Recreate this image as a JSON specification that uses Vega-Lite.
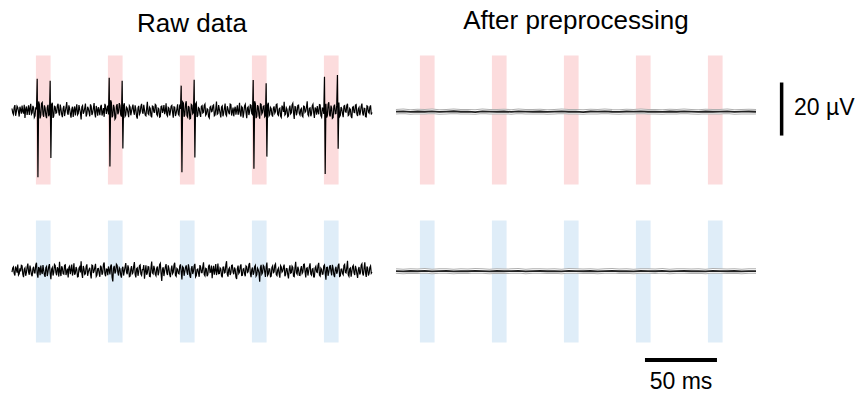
{
  "$schema": "https://vega.github.io/schema/vega-lite/v6.json",
  "padding": {"left": 9, "top": 8, "right": 0, "bottom": 0},
  "background": "white",
  "config": {
    "view": {"stroke": null},
    "font": "Liberation Sans",
    "title": {"font": "Liberation Sans", "fontSize": 26, "fontWeight": "normal", "color": "#000000", "anchor": "middle", "frame": "group"}
  },
  "datasets": {
    "redBands": [{"s":16.6,"e":26.8,"lo":-28.46,"hi":21.15},{"s":66.6,"e":76.8,"lo":-28.46,"hi":21.15},{"s":116.6,"e":126.8,"lo":-28.46,"hi":21.15},{"s":166.6,"e":176.8,"lo":-28.46,"hi":21.15},{"s":216.6,"e":226.8,"lo":-28.46,"hi":21.15}],
    "blueBands": [{"s":16.6,"e":26.8,"lo":-27.69,"hi":19.23},{"s":66.6,"e":76.8,"lo":-27.69,"hi":19.23},{"s":116.6,"e":126.8,"lo":-27.69,"hi":19.23},{"s":166.6,"e":176.8,"lo":-27.69,"hi":19.23},{"s":216.6,"e":226.8,"lo":-27.69,"hi":19.23}],
    "rawS": [
{"t":0,"v":0.8},{"t":0.5,"v":-0.9},{"t":1,"v":-1.5},{"t":1.5,"v":1.1},{"t":2,"v":2.1},{"t":2.5,"v":-2.0},{"t":3,"v":-0.6},{"t":3.5,"v":1.7},{"t":4,"v":1.2},{"t":4.5,"v":-0.4},
{"t":5,"v":-2.3},{"t":5.5,"v":1.5},{"t":6,"v":0.4},{"t":6.5,"v":-1.2},{"t":7,"v":1.9},{"t":7.5,"v":-0.3},{"t":8,"v":-1.1},{"t":8.5,"v":2.2},{"t":9,"v":-2.8},{"t":9.5,"v":0.6},
{"t":10,"v":1.6},{"t":10.5,"v":-1.7},{"t":11,"v":0.3},{"t":11.5,"v":2.0},{"t":12,"v":-1.7},{"t":12.5,"v":0.9},{"t":13,"v":2.6},{"t":13.5,"v":-1.4},{"t":14,"v":-0.9},{"t":14.5,"v":1.8},
{"t":15,"v":1.1},{"t":15.5,"v":-2.6},{"t":16,"v":-2.0},{"t":16.5,"v":1.3},{"t":17,"v":0.5},{"t":17.5,"v":12.2},{"t":18,"v":-25.6},{"t":18.5,"v":3.5},{"t":19,"v":2.4},{"t":19.5,"v":-3.0},
{"t":20,"v":-1.8},{"t":20.5,"v":2.7},{"t":21,"v":3.1},{"t":21.5,"v":-1.5},{"t":22,"v":-2.4},{"t":22.5,"v":2.0},{"t":23,"v":1.0},{"t":23.5,"v":-1.8},{"t":24,"v":-2.9},{"t":24.5,"v":1.2},
{"t":25,"v":2.2},{"t":25.5,"v":-2.2},{"t":26,"v":-1.3},{"t":26.5,"v":11.5},{"t":27,"v":-18.2},{"t":27.5,"v":2.4},{"t":28,"v":3.0},{"t":28.5,"v":-2.8},{"t":29,"v":-2.1},{"t":29.5,"v":1.6},
{"t":30,"v":1.4},{"t":30.5,"v":-1.0},{"t":31,"v":-0.8},{"t":31.5,"v":1.9},{"t":32,"v":2.6},{"t":32.5,"v":-0.7},{"t":33,"v":-1.9},{"t":33.5,"v":2.3},{"t":34,"v":0.7},{"t":34.5,"v":-1.5},
{"t":35,"v":-2.5},{"t":35.5,"v":0.8},{"t":36,"v":1.8},{"t":36.5,"v":-2.1},{"t":37,"v":-0.4},{"t":37.5,"v":1.2},{"t":38,"v":3.3},{"t":38.5,"v":-0.9},{"t":39,"v":-1.6},{"t":39.5,"v":2.0},
{"t":40,"v":0.9},{"t":40.5,"v":-1.3},{"t":41,"v":-2.7},{"t":41.5,"v":0.5},{"t":42,"v":1.5},{"t":42.5,"v":-2.4},{"t":43,"v":0.2},{"t":43.5,"v":1.6},{"t":44,"v":-1.9},{"t":44.5,"v":0.7},
{"t":45,"v":2.4},{"t":45.5,"v":-1.6},{"t":46,"v":-1.1},{"t":46.5,"v":2.1},{"t":47,"v":0.6},{"t":47.5,"v":-0.8},{"t":48,"v":-3.4},{"t":48.5,"v":1.4},{"t":49,"v":1.9},{"t":49.5,"v":-1.2},
{"t":50,"v":-0.5},{"t":50.5,"v":1.0},{"t":51,"v":2.7},{"t":51.5,"v":-2.3},{"t":52,"v":-1.4},{"t":52.5,"v":1.5},{"t":53,"v":0.8},{"t":53.5,"v":-0.6},{"t":54,"v":-2.2},{"t":54.5,"v":2.4},
{"t":55,"v":1.6},{"t":55.5,"v":-1.7},{"t":56,"v":-0.9},{"t":56.5,"v":0.9},{"t":57,"v":2.9},{"t":57.5,"v":-1.1},{"t":58,"v":-2.6},{"t":58.5,"v":1.8},{"t":59,"v":0.5},{"t":59.5,"v":-2.0},
{"t":60,"v":1.3},{"t":60.5,"v":0.2},{"t":61,"v":-1.8},{"t":61.5,"v":1.4},{"t":62,"v":2.2},{"t":62.5,"v":-1.9},{"t":63,"v":-0.7},{"t":63.5,"v":1.0},{"t":64,"v":-2.4},{"t":64.5,"v":2.6},
{"t":65,"v":1.7},{"t":65.5,"v":-1.3},{"t":66,"v":0.4},{"t":66.5,"v":1.9},{"t":67,"v":-1.5},{"t":67.5,"v":12.6},{"t":68,"v":-21.5},{"t":68.5,"v":4.0},{"t":69,"v":3.2},{"t":69.5,"v":-2.6},
{"t":70,"v":-2.0},{"t":70.5,"v":2.2},{"t":71,"v":1.1},{"t":71.5,"v":-3.3},{"t":72,"v":-2.8},{"t":72.5,"v":1.7},{"t":73,"v":2.5},{"t":73.5,"v":-1.4},{"t":74,"v":-0.6},{"t":74.5,"v":2.9},
{"t":75,"v":1.9},{"t":75.5,"v":-1.6},{"t":76,"v":-2.3},{"t":76.5,"v":11.5},{"t":77,"v":-14.6},{"t":77.5,"v":2.0},{"t":78,"v":2.8},{"t":78.5,"v":-2.2},{"t":79,"v":-1.7},{"t":79.5,"v":1.3},
{"t":80,"v":0.9},{"t":80.5,"v":-0.8},{"t":81,"v":-2.5},{"t":81.5,"v":1.9},{"t":82,"v":1.4},{"t":82.5,"v":-1.8},{"t":83,"v":-0.3},{"t":83.5,"v":1.1},{"t":84,"v":2.3},{"t":84.5,"v":-0.5},
{"t":85,"v":-1.6},{"t":85.5,"v":2.0},{"t":86,"v":0.6},{"t":86.5,"v":-2.2},{"t":87,"v":-3.1},{"t":87.5,"v":1.0},{"t":88,"v":1.8},{"t":88.5,"v":-1.5},{"t":89,"v":-0.9},{"t":89.5,"v":1.6},
{"t":90,"v":2.6},{"t":90.5,"v":-0.4},{"t":91,"v":-1.2},{"t":91.5,"v":2.2},{"t":92,"v":0.3},{"t":92.5,"v":-1.7},{"t":93,"v":-2.0},{"t":93.5,"v":0.8},{"t":94,"v":3.4},{"t":94.5,"v":-1.1},
{"t":95,"v":-1.5},{"t":95.5,"v":1.3},{"t":96,"v":0.8},{"t":96.5,"v":-2.0},{"t":97,"v":-2.6},{"t":97.5,"v":1.7},{"t":98,"v":1.5},{"t":98.5,"v":-0.6},{"t":99,"v":-0.7},{"t":99.5,"v":2.4},
{"t":100,"v":2.1},{"t":100.5,"v":-1.4},{"t":101,"v":-1.9},{"t":101.5,"v":0.9},{"t":102,"v":0.6},{"t":102.5,"v":-2.5},{"t":103,"v":-2.3},{"t":103.5,"v":1.5},{"t":104,"v":1.7},{"t":104.5,"v":-0.9},
{"t":105,"v":0.2},{"t":105.5,"v":2.1},{"t":106,"v":-1.4},{"t":106.5,"v":-0.2},{"t":107,"v":2.8},{"t":107.5,"v":-1.6},{"t":108,"v":-2.1},{"t":108.5,"v":1.2},{"t":109,"v":0.9},{"t":109.5,"v":-1.9},
{"t":110,"v":-0.5},{"t":110.5,"v":1.7},{"t":111,"v":2.0},{"t":111.5,"v":-0.7},{"t":112,"v":-2.7},{"t":112.5,"v":1.4},{"t":113,"v":1.3},{"t":113.5,"v":-2.1},{"t":114,"v":-1.0},{"t":114.5,"v":0.6},
{"t":115,"v":2.4},{"t":115.5,"v":-1.3},{"t":116,"v":-1.8},{"t":116.5,"v":2.3},{"t":117,"v":0.7},{"t":117.5,"v":9.6},{"t":118,"v":-23.7},{"t":118.5,"v":3.3},{"t":119,"v":2.9},{"t":119.5,"v":-2.4},
{"t":120,"v":-1.6},{"t":120.5,"v":2.5},{"t":121,"v":3.6},{"t":121.5,"v":-2.0},{"t":122,"v":-2.5},{"t":122.5,"v":1.8},{"t":123,"v":1.2},{"t":123.5,"v":-3.2},{"t":124,"v":-3.0},{"t":124.5,"v":2.4},
{"t":125,"v":2.1},{"t":125.5,"v":-1.2},{"t":126,"v":-0.8},{"t":126.5,"v":11.9},{"t":127,"v":-18.0},{"t":127.5,"v":2.6},{"t":128,"v":3.1},{"t":128.5,"v":-2.5},{"t":129,"v":-1.9},{"t":129.5,"v":1.1},
{"t":130,"v":0.8},{"t":130.5,"v":-1.3},{"t":131,"v":-2.4},{"t":131.5,"v":1.6},{"t":132,"v":1.9},{"t":132.5,"v":-0.9},{"t":133,"v":-0.6},{"t":133.5,"v":2.0},{"t":134,"v":2.5},{"t":134.5,"v":-1.8},
{"t":135,"v":-1.3},{"t":135.5,"v":0.7},{"t":136,"v":0.4},{"t":136.5,"v":-2.3},{"t":137,"v":-2.8},{"t":137.5,"v":1.3},{"t":138,"v":1.6},{"t":138.5,"v":-0.4},{"t":139,"v":-0.2},{"t":139.5,"v":1.9},
{"t":140,"v":2.2},{"t":140.5,"v":-2.0},{"t":141,"v":-1.7},{"t":141.5,"v":0.6},{"t":142,"v":3.5},{"t":142.5,"v":-1.4},{"t":143,"v":-1.1},{"t":143.5,"v":2.1},{"t":144,"v":0.5},{"t":144.5,"v":-1.0},
{"t":145,"v":-2.6},{"t":145.5,"v":1.4},{"t":146,"v":1.8},{"t":146.5,"v":-2.2},{"t":147,"v":-0.9},{"t":147.5,"v":0.9},{"t":148,"v":2.7},{"t":148.5,"v":-1.5},{"t":149,"v":-2.0},{"t":149.5,"v":1.7},
{"t":150,"v":0.7},{"t":150.5,"v":-0.8},{"t":151,"v":-1.4},{"t":151.5,"v":2.5},{"t":152,"v":2.3},{"t":152.5,"v":-1.9},{"t":153,"v":-0.5},{"t":153.5,"v":1.2},{"t":154,"v":-2.2},{"t":154.5,"v":0.4},
{"t":155,"v":1.5},{"t":155.5,"v":-1.6},{"t":156,"v":0.3},{"t":156.5,"v":2.0},{"t":157,"v":-1.6},{"t":157.5,"v":-0.3},{"t":158,"v":3.0},{"t":158.5,"v":-1.2},{"t":159,"v":-2.3},{"t":159.5,"v":1.5},
{"t":160,"v":1.1},{"t":160.5,"v":-2.7},{"t":161,"v":-0.8},{"t":161.5,"v":1.8},{"t":162,"v":2.4},{"t":162.5,"v":-0.6},{"t":163,"v":-2.9},{"t":163.5,"v":1.0},{"t":164,"v":1.4},{"t":164.5,"v":-1.7},
{"t":165,"v":-0.4},{"t":165.5,"v":2.2},{"t":166,"v":2.0},{"t":166.5,"v":-1.1},{"t":167,"v":-1.5},{"t":167.5,"v":11.8},{"t":168,"v":-22.4},{"t":168.5,"v":3.6},{"t":169,"v":2.7},{"t":169.5,"v":-2.9},
{"t":170,"v":-2.2},{"t":170.5,"v":2.1},{"t":171,"v":1.5},{"t":171.5,"v":-1.8},{"t":172,"v":-3.1},{"t":172.5,"v":2.6},{"t":173,"v":2.4},{"t":173.5,"v":-1.3},{"t":174,"v":-0.7},{"t":174.5,"v":1.6},
{"t":175,"v":1.8},{"t":175.5,"v":-2.4},{"t":176,"v":-2.0},{"t":176.5,"v":10.5},{"t":177,"v":-17.7},{"t":177.5,"v":2.2},{"t":178,"v":3.0},{"t":178.5,"v":-2.0},{"t":179,"v":-1.5},{"t":179.5,"v":1.2},
{"t":180,"v":0.7},{"t":180.5,"v":-1.6},{"t":181,"v":-2.3},{"t":181.5,"v":0.9},{"t":182,"v":1.6},{"t":182.5,"v":-1.0},{"t":183,"v":-0.4},{"t":183.5,"v":2.3},{"t":184,"v":2.5},{"t":184.5,"v":-1.4},
{"t":185,"v":-1.8},{"t":185.5,"v":0.6},{"t":186,"v":0.9},{"t":186.5,"v":-2.1},{"t":187,"v":-2.6},{"t":187.5,"v":1.9},{"t":188,"v":1.2},{"t":188.5,"v":-0.5},{"t":189,"v":3.4},{"t":189.5,"v":-1.7},
{"t":190,"v":-1.3},{"t":190.5,"v":1.1},{"t":191,"v":0.5},{"t":191.5,"v":-2.4},{"t":192,"v":-2.1},{"t":192.5,"v":0.8},{"t":193,"v":1.9},{"t":193.5,"v":-1.2},{"t":194,"v":-0.8},{"t":194.5,"v":2.2},
{"t":195,"v":2.8},{"t":195.5,"v":-0.9},{"t":196,"v":-3.2},{"t":196.5,"v":1.5},{"t":197,"v":1.4},{"t":197.5,"v":-1.8},{"t":198,"v":-0.6},{"t":198.5,"v":2.0},{"t":199,"v":2.1},{"t":199.5,"v":-1.1},
{"t":200,"v":-1.7},{"t":200.5,"v":0.4},{"t":201,"v":0.8},{"t":201.5,"v":-2.0},{"t":202,"v":-2.4},{"t":202.5,"v":1.7},{"t":203,"v":1.6},{"t":203.5,"v":-0.7},{"t":204,"v":-0.3},{"t":204.5,"v":1.4},
{"t":205,"v":3.6},{"t":205.5,"v":-1.5},{"t":206,"v":-2.0},{"t":206.5,"v":0.9},{"t":207,"v":1.1},{"t":207.5,"v":-2.2},{"t":208,"v":-1.2},{"t":208.5,"v":1.8},{"t":209,"v":2.4},{"t":209.5,"v":-0.8},
{"t":210,"v":-2.8},{"t":210.5,"v":1.2},{"t":211,"v":0.6},{"t":211.5,"v":-1.6},{"t":212,"v":1.7},{"t":212.5,"v":-0.4},{"t":213,"v":-1.4},{"t":213.5,"v":2.3},{"t":214,"v":2.2},{"t":214.5,"v":-1.9},
{"t":215,"v":-2.5},{"t":215.5,"v":1.0},{"t":216,"v":0.9},{"t":216.5,"v":-1.3},{"t":217,"v":13.0},{"t":217.5,"v":-24.4},{"t":218,"v":2.6},{"t":218.5,"v":-2.7},{"t":219,"v":-1.9},{"t":219.5,"v":2.4},
{"t":220,"v":3.2},{"t":220.5,"v":-1.6},{"t":221,"v":-2.3},{"t":221.5,"v":1.9},{"t":222,"v":1.0},{"t":222.5,"v":-3.0},{"t":223,"v":-2.7},{"t":223.5,"v":1.6},{"t":224,"v":2.3},{"t":224.5,"v":-1.2},
{"t":225,"v":-1.1},{"t":225.5,"v":2.1},{"t":226,"v":13.7},{"t":226.5,"v":-14.7},{"t":227,"v":3.1},{"t":227.5,"v":-2.3},{"t":228,"v":-1.8},{"t":228.5,"v":1.4},{"t":229,"v":0.7},{"t":229.5,"v":-1.2},
{"t":230,"v":-2.5},{"t":230.5,"v":1.7},{"t":231,"v":1.9},{"t":231.5,"v":-0.5},{"t":232,"v":-0.6},{"t":232.5,"v":2.0},{"t":233,"v":2.6},{"t":233.5,"v":-1.9},{"t":234,"v":-1.6},{"t":234.5,"v":0.8},
{"t":235,"v":0.4},{"t":235.5,"v":-2.2},{"t":236,"v":-2.9},{"t":236.5,"v":1.3},{"t":237,"v":1.5},{"t":237.5,"v":-0.7},{"t":238,"v":-0.8},{"t":238.5,"v":2.1},{"t":239,"v":2.3},{"t":239.5,"v":-1.4},
{"t":240,"v":-2.1},{"t":240.5,"v":0.6},{"t":241,"v":1.2},{"t":241.5,"v":-1.8},{"t":242,"v":-0.5},{"t":242.5,"v":1.6},{"t":243,"v":2.7},{"t":243.5,"v":-1.0},{"t":244,"v":-1.9},{"t":244.5,"v":0.9},
{"t":245,"v":0.8},{"t":245.5,"v":-2.3},{"t":246,"v":-2.4},{"t":246.5,"v":1.8},{"t":247,"v":1.6},{"t":247.5,"v":-0.6},{"t":248,"v":-1.0},{"t":248.5,"v":1.3},{"t":249,"v":2.0},{"t":249.5,"v":-1.5},
{"t":250,"v":-0.7}
    ],
    "rawN": [
{"t":0,"v":-0.6},{"t":0.5,"v":1.0},{"t":1,"v":1.4},{"t":1.5,"v":-1.1},{"t":2,"v":-1.9},{"t":2.5,"v":1.6},{"t":3,"v":0.7},{"t":3.5,"v":-0.8},{"t":4,"v":2.3},{"t":4.5,"v":-1.7},
{"t":5,"v":-1.2},{"t":5.5,"v":0.9},{"t":6,"v":-0.3},{"t":6.5,"v":2.0},{"t":7,"v":1.8},{"t":7.5,"v":-1.4},{"t":8,"v":-2.5},{"t":8.5,"v":0.5},{"t":9,"v":1.0},{"t":9.5,"v":-2.0},
{"t":10,"v":-0.8},{"t":10.5,"v":1.3},{"t":11,"v":2.7},{"t":11.5,"v":-0.6},{"t":12,"v":-1.6},{"t":12.5,"v":1.9},{"t":13,"v":0.4},{"t":13.5,"v":-1.5},{"t":14,"v":-2.2},{"t":14.5,"v":0.7},
{"t":15,"v":1.5},{"t":15.5,"v":-0.9},{"t":16,"v":-0.9},{"t":16.5,"v":2.2},{"t":17,"v":3.0},{"t":17.5,"v":-1.3},{"t":18,"v":-2.7},{"t":18.5,"v":1.4},{"t":19,"v":0.8},{"t":19.5,"v":-1.8},
{"t":20,"v":1.9},{"t":20.5,"v":-0.4},{"t":21,"v":-1.3},{"t":21.5,"v":2.1},{"t":22,"v":0.2},{"t":22.5,"v":-1.6},{"t":23,"v":-2.4},{"t":23.5,"v":1.1},{"t":24,"v":1.6},{"t":24.5,"v":-2.1},
{"t":25,"v":-0.5},{"t":25.5,"v":1.5},{"t":26,"v":2.5},{"t":26.5,"v":-1.0},{"t":27,"v":-3.3},{"t":27.5,"v":0.6},{"t":28,"v":1.2},{"t":28.5,"v":-1.9},{"t":29,"v":-0.7},{"t":29.5,"v":2.4},
{"t":30,"v":2.0},{"t":30.5,"v":-0.8},{"t":31,"v":-1.8},{"t":31.5,"v":1.3},{"t":32,"v":0.6},{"t":32.5,"v":-2.3},{"t":33,"v":3.4},{"t":33.5,"v":-0.5},{"t":34,"v":-2.1},{"t":34.5,"v":1.7},
{"t":35,"v":0.9},{"t":35.5,"v":-1.2},{"t":36,"v":-1.4},{"t":36.5,"v":2.0},{"t":37,"v":2.2},{"t":37.5,"v":-1.7},{"t":38,"v":-0.4},{"t":38.5,"v":0.8},{"t":39,"v":-2.6},{"t":39.5,"v":1.2},
{"t":40,"v":1.7},{"t":40.5,"v":-1.4},{"t":41,"v":0.3},{"t":41.5,"v":2.3},{"t":42,"v":-1.9},{"t":42.5,"v":-0.2},{"t":43,"v":2.8},{"t":43.5,"v":-1.6},{"t":44,"v":-1.0},{"t":44.5,"v":1.4},
{"t":45,"v":0.5},{"t":45.5,"v":-2.4},{"t":46,"v":-2.3},{"t":46.5,"v":0.9},{"t":47,"v":1.4},{"t":47.5,"v":-0.7},{"t":48,"v":3.6},{"t":48.5,"v":-1.1},{"t":49,"v":-2.8},{"t":49.5,"v":1.8},
{"t":50,"v":0.7},{"t":50.5,"v":-1.5},{"t":51,"v":-1.2},{"t":51.5,"v":1.6},{"t":52,"v":2.4},{"t":52.5,"v":-2.0},{"t":53,"v":-0.6},{"t":53.5,"v":0.4},{"t":54,"v":1.1},{"t":54.5,"v":-1.3},
{"t":55,"v":-3.0},{"t":55.5,"v":2.1},{"t":56,"v":1.9},{"t":56.5,"v":-0.9},{"t":57,"v":-0.2},{"t":57.5,"v":1.2},{"t":58,"v":2.6},{"t":58.5,"v":-2.2},{"t":59,"v":-1.7},{"t":59.5,"v":0.7},
{"t":60,"v":0.8},{"t":60.5,"v":-1.0},{"t":61,"v":-2.4},{"t":61.5,"v":1.9},{"t":62,"v":1.3},{"t":62.5,"v":-1.6},{"t":63,"v":-0.9},{"t":63.5,"v":2.4},{"t":64,"v":3.1},{"t":64.5,"v":-1.2},
{"t":65,"v":-2.2},{"t":65.5,"v":0.6},{"t":66,"v":0.5},{"t":66.5,"v":-1.8},{"t":67,"v":1.6},{"t":67.5,"v":0.3},{"t":68,"v":-1.5},{"t":68.5,"v":1.7},{"t":69,"v":2.3},{"t":69.5,"v":-2.5},
{"t":70,"v":-4.2},{"t":70.5,"v":1.0},{"t":71,"v":1.8},{"t":71.5,"v":-1.1},{"t":72,"v":-0.4},{"t":72.5,"v":2.5},{"t":73,"v":2.1},{"t":73.5,"v":-0.7},{"t":74,"v":-1.9},{"t":74.5,"v":1.1},
{"t":75,"v":0.6},{"t":75.5,"v":-1.7},{"t":76,"v":-2.7},{"t":76.5,"v":0.8},{"t":77,"v":1.5},{"t":77.5,"v":-1.9},{"t":78,"v":-0.3},{"t":78.5,"v":1.3},{"t":79,"v":2.9},{"t":79.5,"v":-0.6},
{"t":80,"v":-1.4},{"t":80.5,"v":2.0},{"t":81,"v":0.9},{"t":81.5,"v":-2.3},{"t":82,"v":-2.1},{"t":82.5,"v":0.5},{"t":83,"v":1.7},{"t":83.5,"v":-1.2},{"t":84,"v":-0.8},{"t":84.5,"v":1.6},
{"t":85,"v":3.3},{"t":85.5,"v":-1.4},{"t":86,"v":-2.6},{"t":86.5,"v":0.7},{"t":87,"v":1.0},{"t":87.5,"v":-2.0},{"t":88,"v":-0.5},{"t":88.5,"v":1.9},{"t":89,"v":2.2},{"t":89.5,"v":-1.3},
{"t":90,"v":-1.8},{"t":90.5,"v":0.4},{"t":91,"v":0.4},{"t":91.5,"v":2.1},{"t":92,"v":-3.1},{"t":92.5,"v":-0.4},{"t":93,"v":2.0},{"t":93.5,"v":-1.6},{"t":94,"v":-0.9},{"t":94.5,"v":1.5},
{"t":95,"v":1.4},{"t":95.5,"v":-2.2},{"t":96,"v":-2.3},{"t":96.5,"v":1.0},{"t":97,"v":3.5},{"t":97.5,"v":-0.8},{"t":98,"v":-1.2},{"t":98.5,"v":1.8},{"t":99,"v":0.7},{"t":99.5,"v":-1.4},
{"t":100,"v":-2.0},{"t":100.5,"v":0.9},{"t":101,"v":1.6},{"t":101.5,"v":-1.8},{"t":102,"v":-0.6},{"t":102.5,"v":2.3},{"t":103,"v":2.8},{"t":103.5,"v":-1.0},{"t":104,"v":-4.0},{"t":104.5,"v":0.6},
{"t":105,"v":1.3},{"t":105.5,"v":-2.1},{"t":106,"v":-0.2},{"t":106.5,"v":1.4},{"t":107,"v":2.5},{"t":107.5,"v":-0.9},{"t":108,"v":-1.7},{"t":108.5,"v":2.0},{"t":109,"v":0.8},{"t":109.5,"v":-1.5},
{"t":110,"v":-2.5},{"t":110.5,"v":0.3},{"t":111,"v":1.9},{"t":111.5,"v":-1.2},{"t":112,"v":-0.7},{"t":112.5,"v":2.2},{"t":113,"v":3.0},{"t":113.5,"v":-1.8},{"t":114,"v":-2.2},{"t":114.5,"v":0.8},
{"t":115,"v":0.5},{"t":115.5,"v":-1.1},{"t":116,"v":-1.3},{"t":116.5,"v":1.7},{"t":117,"v":2.4},{"t":117.5,"v":-0.5},{"t":118,"v":-3.4},{"t":118.5,"v":1.5},{"t":119,"v":1.1},{"t":119.5,"v":-2.0},
{"t":120,"v":-0.4},{"t":120.5,"v":1.2},{"t":121,"v":2.0},{"t":121.5,"v":-0.6},{"t":122,"v":-1.6},{"t":122.5,"v":2.4},{"t":123,"v":0.9},{"t":123.5,"v":-1.9},{"t":124,"v":-2.8},{"t":124.5,"v":0.7},
{"t":125,"v":1.7},{"t":125.5,"v":-1.3},{"t":126,"v":-0.3},{"t":126.5,"v":1.8},{"t":127,"v":2.6},{"t":127.5,"v":-2.4},{"t":128,"v":-1.9},{"t":128.5,"v":0.4},{"t":129,"v":0.6},{"t":129.5,"v":-1.0},
{"t":130,"v":-2.4},{"t":130.5,"v":2.1},{"t":131,"v":1.3},{"t":131.5,"v":-0.8},{"t":132,"v":-0.8},{"t":132.5,"v":1.4},{"t":133,"v":3.2},{"t":133.5,"v":-1.5},{"t":134,"v":-2.0},{"t":134.5,"v":0.9},
{"t":135,"v":0.7},{"t":135.5,"v":-2.2},{"t":136,"v":-1.5},{"t":136.5,"v":1.6},{"t":137,"v":2.3},{"t":137.5,"v":-0.7},{"t":138,"v":-0.5},{"t":138.5,"v":1.9},{"t":139,"v":-2.9},{"t":139.5,"v":0.2},
{"t":140,"v":1.8},{"t":140.5,"v":-1.6},{"t":141,"v":0.2},{"t":141.5,"v":2.5},{"t":142,"v":-1.7},{"t":142.5,"v":-0.3},{"t":143,"v":2.7},{"t":143.5,"v":-1.2},{"t":144,"v":-1.1},{"t":144.5,"v":1.0},
{"t":145,"v":0.6},{"t":145.5,"v":-2.0},{"t":146,"v":-2.6},{"t":146.5,"v":1.3},{"t":147,"v":1.4},{"t":147.5,"v":-0.9},{"t":148,"v":-0.7},{"t":148.5,"v":2.2},{"t":149,"v":3.6},{"t":149.5,"v":-1.4},
{"t":150,"v":-2.3},{"t":150.5,"v":0.5},{"t":151,"v":1.0},{"t":151.5,"v":-1.7},{"t":152,"v":-0.9},{"t":152.5,"v":2.0},{"t":153,"v":2.1},{"t":153.5,"v":-0.6},{"t":154,"v":-1.4},{"t":154.5,"v":1.2},
{"t":155,"v":0.5},{"t":155.5,"v":-2.5},{"t":156,"v":-3.2},{"t":156.5,"v":0.8},{"t":157,"v":1.9},{"t":157.5,"v":-1.1},{"t":158,"v":-0.6},{"t":158.5,"v":1.6},{"t":159,"v":2.4},{"t":159.5,"v":-1.9},
{"t":160,"v":-1.8},{"t":160.5,"v":0.6},{"t":161,"v":0.8},{"t":161.5,"v":-1.3},{"t":162,"v":-2.2},{"t":162.5,"v":1.8},{"t":163,"v":1.5},{"t":163.5,"v":-0.7},{"t":164,"v":-0.4},{"t":164.5,"v":2.3},
{"t":165,"v":2.9},{"t":165.5,"v":-1.0},{"t":166,"v":-2.5},{"t":166.5,"v":0.4},{"t":167,"v":1.2},{"t":167.5,"v":-1.6},{"t":168,"v":-0.8},{"t":168.5,"v":1.5},{"t":169,"v":2.0},{"t":169.5,"v":-2.1},
{"t":170,"v":-1.6},{"t":170.5,"v":0.9},{"t":171,"v":0.3},{"t":171.5,"v":-0.9},{"t":172,"v":-4.3},{"t":172.5,"v":1.1},{"t":173,"v":2.2},{"t":173.5,"v":-1.4},{"t":174,"v":-0.9},{"t":174.5,"v":2.0},
{"t":175,"v":1.6},{"t":175.5,"v":-0.5},{"t":176,"v":-2.4},{"t":176.5,"v":1.4},{"t":177,"v":3.1},{"t":177.5,"v":-1.8},{"t":178,"v":-1.3},{"t":178.5,"v":0.7},{"t":179,"v":0.6},{"t":179.5,"v":-2.3},
{"t":180,"v":-2.1},{"t":180.5,"v":1.2},{"t":181,"v":1.8},{"t":181.5,"v":-0.8},{"t":182,"v":-0.5},{"t":182.5,"v":2.1},{"t":183,"v":2.6},{"t":183.5,"v":-1.5},{"t":184,"v":-1.9},{"t":184.5,"v":0.3},
{"t":185,"v":0.9},{"t":185.5,"v":-1.2},{"t":186,"v":-2.7},{"t":186.5,"v":1.9},{"t":187,"v":1.4},{"t":187.5,"v":-0.6},{"t":188,"v":-0.2},{"t":188.5,"v":1.3},{"t":189,"v":2.3},{"t":189.5,"v":-2.2},
{"t":190,"v":-1.5},{"t":190.5,"v":0.8},{"t":191,"v":0.7},{"t":191.5,"v":-1.6},{"t":192,"v":-3.0},{"t":192.5,"v":0.5},{"t":193,"v":2.0},{"t":193.5,"v":-1.0},{"t":194,"v":-0.8},{"t":194.5,"v":1.7},
{"t":195,"v":1.2},{"t":195.5,"v":-2.1},{"t":196,"v":-2.3},{"t":196.5,"v":1.1},{"t":197,"v":3.4},{"t":197.5,"v":-0.9},{"t":198,"v":-1.4},{"t":198.5,"v":1.5},{"t":199,"v":0.5},{"t":199.5,"v":-1.8},
{"t":200,"v":-1.9},{"t":200.5,"v":0.7},{"t":201,"v":1.7},{"t":201.5,"v":-1.1},{"t":202,"v":-0.6},{"t":202.5,"v":2.4},{"t":203,"v":2.5},{"t":203.5,"v":-0.4},{"t":204,"v":-2.6},{"t":204.5,"v":0.9},
{"t":205,"v":1.1},{"t":205.5,"v":-1.9},{"t":206,"v":-0.3},{"t":206.5,"v":1.6},{"t":207,"v":2.8},{"t":207.5,"v":-1.3},{"t":208,"v":-1.7},{"t":208.5,"v":0.6},{"t":209,"v":0.8},{"t":209.5,"v":-2.4},
{"t":210,"v":-2.4},{"t":210.5,"v":1.0},{"t":211,"v":1.6},{"t":211.5,"v":-0.5},{"t":212,"v":-0.7},{"t":212.5,"v":2.0},{"t":213,"v":3.0},{"t":213.5,"v":-1.7},{"t":214,"v":-2.1},{"t":214.5,"v":0.9},
{"t":215,"v":0.4},{"t":215.5,"v":-1.4},{"t":216,"v":-1.3},{"t":216.5,"v":1.8},{"t":217,"v":2.2},{"t":217.5,"v":-0.8},{"t":218,"v":-3.5},{"t":218.5,"v":1.2},{"t":219,"v":1.3},{"t":219.5,"v":-2.0},
{"t":220,"v":-0.6},{"t":220.5,"v":1.4},{"t":221,"v":2.1},{"t":221.5,"v":-0.3},{"t":222,"v":-1.8},{"t":222.5,"v":2.2},{"t":223,"v":0.9},{"t":223.5,"v":-1.6},{"t":224,"v":-2.5},{"t":224.5,"v":0.6},
{"t":225,"v":1.5},{"t":225.5,"v":-1.2},{"t":226,"v":-0.4},{"t":226.5,"v":1.9},{"t":227,"v":2.7},{"t":227.5,"v":-2.2},{"t":228,"v":-2.0},{"t":228.5,"v":0.5},{"t":229,"v":0.6},{"t":229.5,"v":-1.1},
{"t":230,"v":-1.6},{"t":230.5,"v":2.0},{"t":231,"v":2.4},{"t":231.5,"v":-0.7},{"t":232,"v":-0.9},{"t":232.5,"v":1.3},{"t":233,"v":3.8},{"t":233.5,"v":-1.6},{"t":234,"v":-2.2},{"t":234.5,"v":0.7},
{"t":235,"v":1.0},{"t":235.5,"v":-2.3},{"t":236,"v":-0.5},{"t":236.5,"v":1.5},{"t":237,"v":2.0},{"t":237.5,"v":-0.9},{"t":238,"v":-1.7},{"t":238.5,"v":1.8},{"t":239,"v":0.7},{"t":239.5,"v":-1.3},
{"t":240,"v":-2.8},{"t":240.5,"v":0.4},{"t":241,"v":1.4},{"t":241.5,"v":-1.5},{"t":242,"v":-0.8},{"t":242.5,"v":2.1},{"t":243,"v":2.6},{"t":243.5,"v":-1.1},{"t":244,"v":-1.9},{"t":244.5,"v":1.0},
{"t":245,"v":3.2},{"t":245.5,"v":-0.8},{"t":246,"v":-2.4},{"t":246.5,"v":1.6},{"t":247,"v":0.9},{"t":247.5,"v":-1.9},{"t":248,"v":-1.1},{"t":248.5,"v":1.2},{"t":249,"v":1.8},{"t":249.5,"v":-1.0},
{"t":250,"v":-0.6}
    ],
    "preS": [
{"t":0,"v":-0.4},{"t":5,"v":-0.3},{"t":10,"v":-0.5},{"t":15,"v":-0.35},{"t":20,"v":-0.45},{"t":25,"v":-0.3},{"t":30,"v":-0.5},{"t":35,"v":-0.4},{"t":40,"v":-0.25},{"t":45,"v":-0.45},
{"t":50,"v":-0.4},{"t":55,"v":-0.55},{"t":60,"v":-0.3},{"t":65,"v":-0.4},{"t":70,"v":-0.45},{"t":75,"v":-0.35},{"t":80,"v":-0.5},{"t":85,"v":-0.3},{"t":90,"v":-0.4},{"t":95,"v":-0.45},
{"t":100,"v":-0.35},{"t":105,"v":-0.5},{"t":110,"v":-0.4},{"t":115,"v":-0.3},{"t":120,"v":-0.45},{"t":125,"v":-0.4},{"t":130,"v":-0.55},{"t":135,"v":-0.35},{"t":140,"v":-0.4},{"t":145,"v":-0.3},
{"t":150,"v":-0.45},{"t":155,"v":-0.5},{"t":160,"v":-0.35},{"t":165,"v":-0.4},{"t":170,"v":-0.3},{"t":175,"v":-0.45},{"t":180,"v":-0.4},{"t":185,"v":-0.5},{"t":190,"v":-0.35},{"t":195,"v":-0.45},
{"t":200,"v":-0.3},{"t":205,"v":-0.4},{"t":210,"v":-0.5},{"t":215,"v":-0.35},{"t":220,"v":-0.45},{"t":225,"v":-0.4},{"t":230,"v":-0.3},{"t":235,"v":-0.5},{"t":240,"v":-0.4},{"t":245,"v":-0.35},
{"t":250,"v":-0.45}
    ],
    "preN": [
{"t":0,"v":-0.2},{"t":5,"v":-0.3},{"t":10,"v":-0.15},{"t":15,"v":-0.25},{"t":20,"v":-0.1},{"t":25,"v":-0.3},{"t":30,"v":-0.2},{"t":35,"v":-0.15},{"t":40,"v":-0.3},{"t":45,"v":-0.2},
{"t":50,"v":-0.25},{"t":55,"v":-0.1},{"t":60,"v":-0.2},{"t":65,"v":-0.3},{"t":70,"v":-0.15},{"t":75,"v":-0.25},{"t":80,"v":-0.2},{"t":85,"v":-0.1},{"t":90,"v":-0.3},{"t":95,"v":-0.2},
{"t":100,"v":-0.15},{"t":105,"v":-0.25},{"t":110,"v":-0.2},{"t":115,"v":-0.3},{"t":120,"v":-0.1},{"t":125,"v":-0.2},{"t":130,"v":-0.25},{"t":135,"v":-0.15},{"t":140,"v":-0.3},{"t":145,"v":-0.2},
{"t":150,"v":-0.1},{"t":155,"v":-0.25},{"t":160,"v":-0.2},{"t":165,"v":-0.3},{"t":170,"v":-0.15},{"t":175,"v":-0.2},{"t":180,"v":-0.25},{"t":185,"v":-0.1},{"t":190,"v":-0.3},{"t":195,"v":-0.2},
{"t":200,"v":-0.15},{"t":205,"v":-0.25},{"t":210,"v":-0.2},{"t":215,"v":-0.3},{"t":220,"v":-0.1},{"t":225,"v":-0.2},{"t":230,"v":-0.25},{"t":235,"v":-0.15},{"t":240,"v":-0.3},{"t":245,"v":-0.2},
{"t":250,"v":-0.2}
    ],
    "vbar": [{"t":267.8,"v1":-9.6,"v2":10.8}],
    "vlabel": [{"t":276.4,"v":1.0,"label":"20 µV"}],
    "hbar": [{"t1":172.9,"t2":222.9,"v":-34.4}],
    "hlabel": [{"t":197.9,"v":-42.8,"label":"50 ms"}]
  },
  "spacing": 10,
  "hconcat": [
    {
      "spacing": 27,
      "vconcat": [
        {
          "title": {"text": "Raw data", "offset": 16},
          "width": 360, "height": 133,
          "layer": [
            {"data": {"name": "redBands"}, "mark": {"type": "rect", "color": "#fcdcdd"},
             "encoding": {"x": {"field": "s", "type": "quantitative", "scale": {"domain": [0, 250], "nice": false, "zero": false}, "axis": null},
                          "x2": {"field": "e"},
                          "y": {"field": "lo", "type": "quantitative", "scale": {"domain": [-29, 22.15], "nice": false, "zero": false}, "axis": null},
                          "y2": {"field": "hi"}}},
            {"data": {"name": "rawS"}, "mark": {"type": "line", "color": "#000000", "strokeWidth": 1.2},
             "encoding": {"x": {"field": "t", "type": "quantitative", "axis": null}, "y": {"field": "v", "type": "quantitative", "axis": null}}}
          ]
        },
        {
          "width": 360, "height": 133,
          "layer": [
            {"data": {"name": "blueBands"}, "mark": {"type": "rect", "color": "#dfedf8"},
             "encoding": {"x": {"field": "s", "type": "quantitative", "scale": {"domain": [0, 250], "nice": false, "zero": false}, "axis": null},
                          "x2": {"field": "e"},
                          "y": {"field": "lo", "type": "quantitative", "scale": {"domain": [-29, 22.15], "nice": false, "zero": false}, "axis": null},
                          "y2": {"field": "hi"}}},
            {"data": {"name": "rawN"}, "mark": {"type": "line", "color": "#000000", "strokeWidth": 1.2},
             "encoding": {"x": {"field": "t", "type": "quantitative", "axis": null}, "y": {"field": "v", "type": "quantitative", "axis": null}}}
          ]
        }
      ]
    },
    {
      "spacing": 27,
      "vconcat": [
        {
          "title": {"text": "After preprocessing", "offset": 19},
          "width": 360, "height": 133,
          "layer": [
            {"data": {"name": "redBands"}, "mark": {"type": "rect", "color": "#fcdcdd"},
             "encoding": {"x": {"field": "s", "type": "quantitative", "scale": {"domain": [0, 250], "nice": false, "zero": false}, "axis": null},
                          "x2": {"field": "e"},
                          "y": {"field": "lo", "type": "quantitative", "scale": {"domain": [-29, 22.15], "nice": false, "zero": false}, "axis": null},
                          "y2": {"field": "hi"}}},
            {"data": {"name": "preS"}, "mark": {"type": "line", "color": "#b0b0b0", "strokeWidth": 5.5},
             "encoding": {"x": {"field": "t", "type": "quantitative", "axis": null}, "y": {"field": "v", "type": "quantitative", "axis": null}}},
            {"data": {"name": "preS"}, "mark": {"type": "line", "color": "#ffffff", "strokeWidth": 3.5},
             "encoding": {"x": {"field": "t", "type": "quantitative", "axis": null}, "y": {"field": "v", "type": "quantitative", "axis": null}}},
            {"data": {"name": "preS"}, "mark": {"type": "line", "color": "#222222", "strokeWidth": 1.8},
             "encoding": {"x": {"field": "t", "type": "quantitative", "axis": null}, "y": {"field": "v", "type": "quantitative", "axis": null}}},
            {"data": {"name": "vbar"}, "mark": {"type": "rule", "color": "#000000", "strokeWidth": 3.5},
             "encoding": {"x": {"field": "t", "type": "quantitative", "axis": null}, "y": {"field": "v1", "type": "quantitative", "axis": null}, "y2": {"field": "v2"}}},
            {"data": {"name": "vlabel"}, "mark": {"type": "text", "align": "left", "baseline": "middle", "fontSize": 23, "font": "Liberation Sans", "color": "#000000"},
             "encoding": {"x": {"field": "t", "type": "quantitative", "axis": null}, "y": {"field": "v", "type": "quantitative", "axis": null}, "text": {"field": "label"}}}
          ]
        },
        {
          "width": 360, "height": 133,
          "layer": [
            {"data": {"name": "blueBands"}, "mark": {"type": "rect", "color": "#dfedf8"},
             "encoding": {"x": {"field": "s", "type": "quantitative", "scale": {"domain": [0, 250], "nice": false, "zero": false}, "axis": null},
                          "x2": {"field": "e"},
                          "y": {"field": "lo", "type": "quantitative", "scale": {"domain": [-29, 22.15], "nice": false, "zero": false}, "axis": null},
                          "y2": {"field": "hi"}}},
            {"data": {"name": "preN"}, "mark": {"type": "line", "color": "#b0b0b0", "strokeWidth": 5.5},
             "encoding": {"x": {"field": "t", "type": "quantitative", "axis": null}, "y": {"field": "v", "type": "quantitative", "axis": null}}},
            {"data": {"name": "preN"}, "mark": {"type": "line", "color": "#ffffff", "strokeWidth": 3.5},
             "encoding": {"x": {"field": "t", "type": "quantitative", "axis": null}, "y": {"field": "v", "type": "quantitative", "axis": null}}},
            {"data": {"name": "preN"}, "mark": {"type": "line", "color": "#222222", "strokeWidth": 1.8},
             "encoding": {"x": {"field": "t", "type": "quantitative", "axis": null}, "y": {"field": "v", "type": "quantitative", "axis": null}}},
            {"data": {"name": "hbar"}, "mark": {"type": "rule", "color": "#000000", "strokeWidth": 4},
             "encoding": {"x": {"field": "t1", "type": "quantitative", "axis": null}, "x2": {"field": "t2"}, "y": {"field": "v", "type": "quantitative", "axis": null}}},
            {"data": {"name": "hlabel"}, "mark": {"type": "text", "align": "center", "baseline": "middle", "fontSize": 23, "font": "Liberation Sans", "color": "#000000"},
             "encoding": {"x": {"field": "t", "type": "quantitative", "axis": null}, "y": {"field": "v", "type": "quantitative", "axis": null}, "text": {"field": "label"}}}
          ]
        }
      ]
    }
  ]
}
